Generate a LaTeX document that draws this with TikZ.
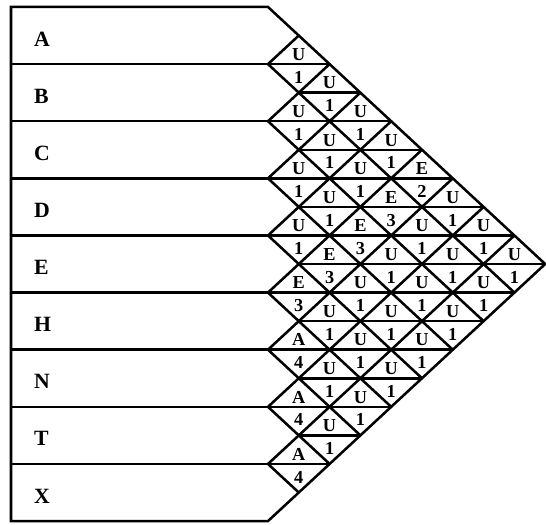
\documentclass[tikz,border=0pt]{standalone}
\usepackage{fontspec}
\setmainfont{Liberation Serif}
\begin{document}
\begin{tikzpicture}[x=0.77cm, y=0.714cm, line width=1.8pt]
  \useasboundingbox (-8.701,-0.105) rectangle (9.026,18.245);
  \draw (-8.344,18) -- (0,18) -- (9,9) -- (0,0) -- (-8.344,0) -- cycle;
  \foreach \i in {1,...,8}
    \draw (0,2*\i) -- ({9-\i},{9+\i}) (0,2*\i) -- (\i,\i);
  \foreach \y in {2,4,...,16}
    \draw (-8.344,\y) -- ({min(\y,18-\y)},\y);
  \foreach \y in {3,5,...,15}
    \draw (1,\y) -- ({min(\y,18-\y)},\y);
  \foreach \r [count=\i from 0] in {A,B,C,D,E,H,N,T,X}
    \node[anchor=west, inner sep=0pt, font=\fontsize{15.5}{16}\selectfont\bfseries]
      (lbl-\r) at (-7.63,{17-2*\i-0.12}) {\r};
  \foreach \i/\j/\rel/\why in {0/1/U/1, 0/2/U/1, 0/3/U/1, 0/4/U/1, 0/5/E/2, 0/6/U/1, 0/7/U/1, 0/8/U/1,
      1/2/U/1, 1/3/U/1, 1/4/U/1, 1/5/E/3, 1/6/U/1, 1/7/U/1, 1/8/U/1,
      2/3/U/1, 2/4/U/1, 2/5/E/3, 2/6/U/1, 2/7/U/1, 2/8/U/1,
      3/4/U/1, 3/5/E/3, 3/6/U/1, 3/7/U/1, 3/8/U/1,
      4/5/E/3, 4/6/U/1, 4/7/U/1, 4/8/U/1,
      5/6/A/4, 5/7/U/1, 5/8/U/1,
      6/7/A/4, 6/8/U/1,
      7/8/A/4} {
    \node[anchor=base, inner sep=0pt, font=\fontsize{13}{13}\selectfont\bfseries]
      (rel-\i-\j) at ({\j-\i},{17-\i-\j+0.13}) {\rel};
    \node[anchor=base, inner sep=0pt, font=\fontsize{13}{13}\selectfont\bfseries]
      (why-\i-\j) at ({\j-\i},{17-\i-\j-0.67}) {\why};
  }
\end{tikzpicture}
\end{document}
